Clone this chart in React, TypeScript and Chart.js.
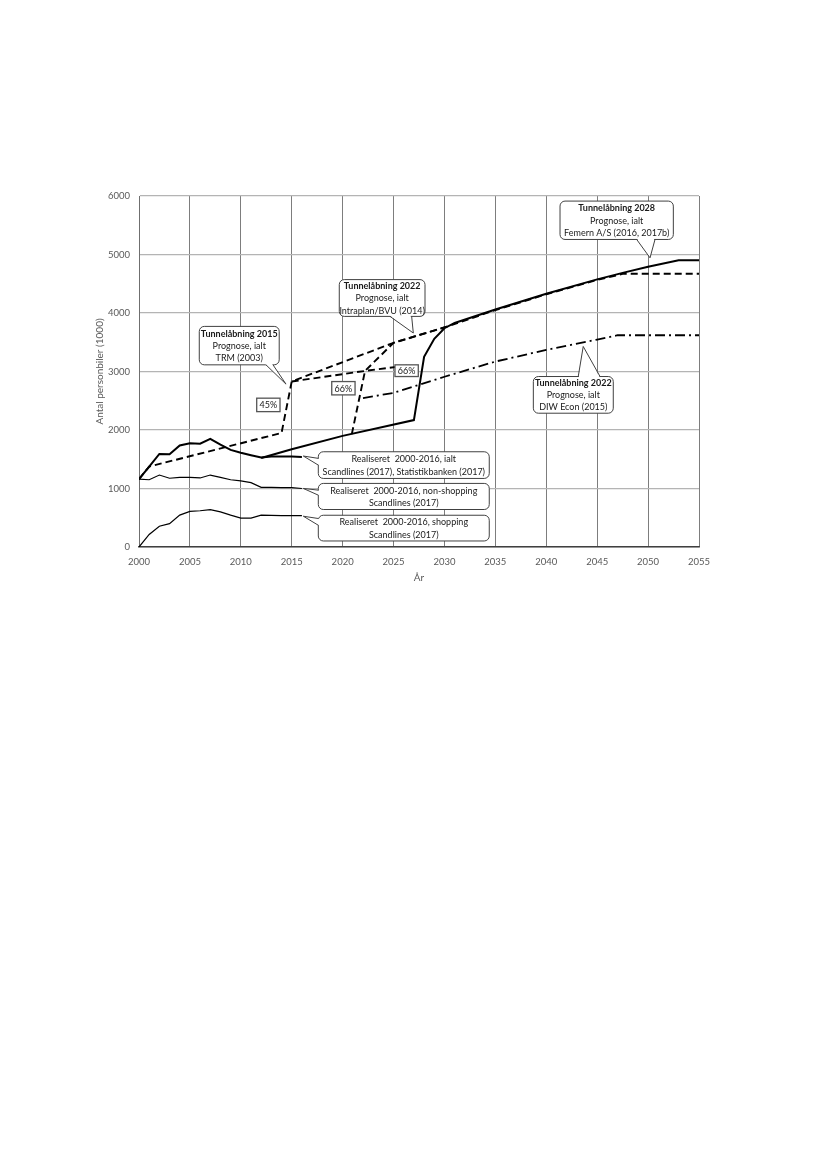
import { useEffect, useRef } from 'react'
import { Chart, registerables } from 'chart.js'

Chart.register(...registerables)

const FONT = "Lato, 'Noto Sans', sans-serif"
const TICK = '#595959'
const INK = '#1a1a1a'

// realiseret 2000-2016
const REAL_YEARS = [2000, 2001, 2002, 2003, 2004, 2005, 2006, 2007, 2008, 2009, 2010, 2011, 2012, 2013, 2014, 2015, 2016]
const REAL_TOTAL = [1160, 1375, 1590, 1585, 1735, 1775, 1765, 1850, 1750, 1660, 1610, 1570, 1530, 1545, 1545, 1545, 1540]
const REAL_NONSHOP = [1160, 1150, 1230, 1175, 1190, 1190, 1180, 1230, 1190, 1150, 1130, 1100, 1020, 1020, 1015, 1015, 1000]
const REAL_SHOP = [0, 215, 355, 400, 545, 610, 620, 640, 600, 545, 495, 495, 545, 540, 535, 535, 535]

// Femern A/S, åbning 2028
const FEMERN_YEARS = [2012, 2015, 2020, 2027, 2028, 2029, 2030, 2031, 2035, 2040, 2045, 2047.6, 2050, 2053, 2055]
const FEMERN = [1520, 1670, 1900, 2170, 3250, 3560, 3740, 3830, 4060, 4330, 4575, 4690, 4790, 4900, 4900]

// TRM (2003), åbning 2015
const TRM_YEARS = [2000, 2001, 2014, 2015, 2025, 2030.3]
const TRM = [1160, 1375, 1950, 2830, 3490, 3770]

// lav gren fra 2015
const LOW_YEARS = [2015, 2022.2, 2026.3]
const LOW = [2830, 3010, 3100]

// Intraplan/BVU (2014), åbning 2022
const INTRA_YEARS = [2020.9, 2022.2, 2025, 2030.3, 2035, 2040, 2045, 2047.6, 2055]
const INTRA = [1930, 3010, 3490, 3770, 4050, 4320, 4565, 4672, 4672]

// DIW Econ (2015), åbning 2022
const DIW_YEARS = [2022, 2025, 2030, 2035, 2040, 2045, 2047, 2055]
const DIW = [2545, 2635, 2910, 3170, 3370, 3545, 3620, 3620]

const X_TICKS = [2000, 2055, 5]
const Y_TICKS = [0, 6000, 1000]

interface Callout {
  lines: string[]
  bold: boolean
  box: [number, number, number, number]
  tail: [number, number][]
}

const CALLOUTS: Callout[] = [
  {
    lines: ['Tunnelåbning 2015', 'Prognose, ialt', 'TRM (2003)'], bold: true,
    box: [2005.92, 3771, 2013.77, 3114],
    tail: [[2012.47, 3114], [2013.16, 3114], [2014.44, 2784]],
  },
  {
    lines: ['Tunnelåbning 2022', 'Prognose, ialt', 'Intraplan/BVU (2014)'], bold: true,
    box: [2019.67, 4571, 2028.09, 3942],
    tail: [[2024.65, 3942], [2026.78, 3942], [2026.94, 3658]],
  },
  {
    lines: ['Tunnelåbning 2028', 'Prognose, ialt', 'Femern A/S (2016, 2017b)'], bold: true,
    box: [2041.35, 5913, 2052.48, 5257],
    tail: [[2048.88, 5257], [2050.68, 5257], [2050.19, 4943]],
  },
  {
    lines: ['Tunnelåbning 2022', 'Prognose, ialt', 'DIW Econ (2015)'], bold: true,
    box: [2038.73, 2914, 2046.58, 2287],
    tail: [[2043.14, 2914], [2045.28, 2914], [2043.63, 3428]],
  },
  {
    lines: ['Realiseret  2000-2016, ialt', 'Scandlines (2017), Statistikbanken (2017)'], bold: false,
    box: [2017.61, 1628, 2034.4, 1172],
    tail: [[2017.61, 1515], [2017.61, 1400], [2016.14, 1555]],
  },
  {
    lines: ['Realiseret  2000-2016, non-shopping', 'Scandlines (2017)'], bold: false,
    box: [2017.61, 1087, 2034.4, 641],
    tail: [[2017.61, 972], [2017.61, 886], [2016.14, 1001]],
  },
  {
    lines: ['Realiseret  2000-2016, shopping', 'Scandlines (2017)'], bold: false,
    box: [2017.61, 543, 2034.4, 103],
    tail: [[2017.61, 487], [2017.61, 372], [2016.14, 526]],
  },
]

const PCT_LABELS = ['45%', '66%', '66%']
const PCT_BOXES: [number, number, number, number][] = [
  [2011.56, 2544, 2013.85, 2314],
  [2018.93, 2828, 2021.22, 2600],
  [2025.14, 3114, 2027.43, 2914],
]

const pts = (xs: number[], ys: number[]) => xs.map((x, i) => ({ x, y: ys[i] }))

const calloutPlugin = {
  id: 'callouts',
  afterDatasetsDraw(chart: Chart) {
    const { ctx } = chart
    const sx = chart.scales.x
    const sy = chart.scales.y
    const px = (v: number) => sx.getPixelForValue(v)
    const py = (v: number) => sy.getPixelForValue(v)
    ctx.save()
    ctx.textAlign = 'center'
    ctx.textBaseline = 'middle'

    PCT_BOXES.forEach((b, i) => {
      const x1 = px(b[0]), y1 = py(b[1]), x2 = px(b[2]), y2 = py(b[3])
      ctx.fillStyle = '#fff'
      ctx.fillRect(x1, y1, x2 - x1, y2 - y1)
      ctx.strokeStyle = '#555'
      ctx.lineWidth = 1.3
      ctx.strokeRect(x1, y1, x2 - x1, y2 - y1)
      ctx.fillStyle = INK
      ctx.font = `9px ${FONT}`
      ctx.fillText(PCT_LABELS[i], (x1 + x2) / 2, (y1 + y2) / 2 + 0.5)
    })

    for (const c of CALLOUTS) {
      const x1 = px(c.box[0]), y1 = py(c.box[1]), x2 = px(c.box[2]), y2 = py(c.box[3])
      ctx.beginPath()
      ctx.roundRect(x1, y1, x2 - x1, y2 - y1, 5)
      ctx.fillStyle = '#fff'
      ctx.fill()
      ctx.strokeStyle = '#404040'
      ctx.lineWidth = 1
      ctx.stroke()

      const [b1, b2, t] = c.tail.map(([vx, vy]) => [px(vx), py(vy)])
      const mx = (b1[0] + b2[0]) / 2 - t[0]
      const my = (b1[1] + b2[1]) / 2 - t[1]
      const len = Math.hypot(mx, my)
      const nx = (mx / len) * 2, ny = (my / len) * 2
      ctx.beginPath()
      ctx.moveTo(b1[0] + nx, b1[1] + ny)
      ctx.lineTo(t[0], t[1])
      ctx.lineTo(b2[0] + nx, b2[1] + ny)
      ctx.closePath()
      ctx.fill()
      ctx.beginPath()
      ctx.moveTo(b1[0], b1[1])
      ctx.lineTo(t[0], t[1])
      ctx.lineTo(b2[0], b2[1])
      ctx.stroke()

      const lh = 12.2
      const cy = (y1 + y2) / 2
      const cx = (x1 + x2) / 2
      c.lines.forEach((ln, i) => {
        ctx.font = `${c.bold && i === 0 ? 'bold ' : ''}9px ${FONT}`
        ctx.fillStyle = INK
        ctx.fillText(ln, cx, cy + (i - (c.lines.length - 1) / 2) * lh + 0.5)
      })
    }
    ctx.restore()
  },
}

export default function App() {
  const canvasRef = useRef<HTMLCanvasElement>(null)

  useEffect(() => {
    if (!canvasRef.current) return
    const line = (data: { x: number; y: number }[], width: number, dash: number[] = []) => ({
      data,
      borderColor: '#000',
      borderWidth: width,
      borderDash: dash,
      pointRadius: 0,
      tension: 0,
      fill: false,
    })

    const chart = new Chart(canvasRef.current, {
      type: 'line',
      data: {
        datasets: [
          line(pts(REAL_YEARS, REAL_SHOP), 1.2),
          line(pts(REAL_YEARS, REAL_NONSHOP), 1.2),
          line(pts(DIW_YEARS, DIW), 1.8, [10, 4, 2, 4]),
          line(pts(LOW_YEARS, LOW), 1.9, [7, 4]),
          line(pts(TRM_YEARS, TRM), 1.9, [7, 4]),
          line(pts(INTRA_YEARS, INTRA), 1.9, [7, 4]),
          line(pts(FEMERN_YEARS, FEMERN), 2),
          line(pts(REAL_YEARS, REAL_TOTAL), 2),
        ],
      },
      options: {
        responsive: false,
        animation: false,
        layout: { padding: { left: 88, top: 196, right: 128, bottom: 1169 - 547 - 40 } },
        plugins: { legend: { display: false }, tooltip: { enabled: false } },
        scales: {
          x: {
            type: 'linear',
            min: X_TICKS[0],
            max: X_TICKS[1],
            afterFit: (s: any) => { s.height = 40 },
            ticks: {
              stepSize: X_TICKS[2],
              color: TICK,
              padding: 9,
              font: { family: FONT, size: 9.5 },
              callback: (v: any) => String(v),
              maxRotation: 0,
            },
            grid: { color: '#6e6e6e', lineWidth: 0.9, drawTicks: false },
            border: { color: '#404040', width: 1.5 },
            title: { display: true, text: 'År', color: TICK, font: { family: FONT, size: 10 }, padding: { top: 0, bottom: 3 } },
          },
          y: {
            min: Y_TICKS[0],
            max: Y_TICKS[1],
            afterFit: (s: any) => { s.width = 139 - 88 },
            ticks: {
              stepSize: Y_TICKS[2],
              color: TICK,
              padding: 9,
              font: { family: FONT, size: 9.5 },
              callback: (v: any) => String(v),
            },
            grid: { color: '#b4b4b4', lineWidth: 1.3, drawTicks: false },
            border: { color: '#6e6e6e', width: 0.9 },
            title: { display: true, text: 'Antal personbiler (1000)', color: TICK, font: { family: FONT, size: 10 }, padding: { top: 6, bottom: 0 } },
          },
        },
      },
      plugins: [calloutPlugin],
    })

    return () => chart.destroy()
  }, [])

  return (
    <div style={{ position: 'absolute', left: 0, top: 0, width: 827, height: 1169, background: '#fff' }}>
      <canvas ref={canvasRef} width={827} height={1169} />
    </div>
  )
}
